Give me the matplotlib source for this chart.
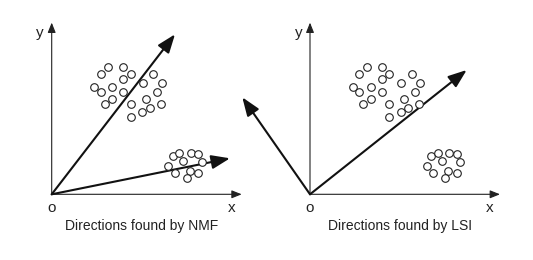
import matplotlib
matplotlib.use('Agg')
from matplotlib import pyplot as plt
import numpy as np

plt.rcParams['font.family'] = ['Liberation Sans', 'DejaVu Sans']

# document points, relative to the origin of each panel (x right, y up)
upper_x = [56.7, 71.7, 49.0, 79.3, 101.7, 71.7, 110.0, 91.0, 42.7, 60.7, 49.3,
           71.7, 105.0, 60.7, 94.0, 53.3, 79.3, 109.3, 98.3, 90.7, 79.3]
upper_y = [127.7, 127.7, 120.3, 120.3, 120.3, 115.0, 111.0, 111.0, 107.7, 107.0, 102.7,
           102.7, 102.7, 95.0, 95.3, 90.0, 90.0, 90.0, 86.7, 82.7, 77.7]
lower_x = [121.0, 127.7, 139.0, 146.7, 131.7, 150.0, 116.7, 123.3, 138.3, 146.7, 135.0]
lower_y = [38.3, 41.0, 41.0, 40.3, 33.7, 32.7, 28.3, 21.0, 23.7, 21.0, 16.0]

# direction vectors found by each method
nmf_dirs = [(123.3, 160.0), (178.3, 36.0)]
lsi_dirs = [(156.7, 124.3), (-67.7, 97.0)]

titles = ['Directions found by NMF', 'Directions found by LSI']
origins = [51.7, 310.0]  # horizontal position of each panel origin (px)
oy = 65.7

fig = plt.figure(figsize=(5.33, 2.6), dpi=100)

for title, dirs, ox in zip(titles, [nmf_dirs, lsi_dirs], origins):
    ax = fig.add_axes([0, 0, 1, 1])
    ax.set_xlim(-ox, 533 - ox)
    ax.set_ylim(-oy, 260 - oy)
    ax.axis('off')
    ax.patch.set_visible(False)

    # coordinate axes
    ax.annotate('', xy=(0, 171.7), xytext=(0, 0),
                arrowprops=dict(arrowstyle='-|>,head_length=0.5,head_width=0.2',
                                lw=0.8, color='#222222', shrinkA=0, shrinkB=0,
                                mutation_scale=12))
    ax.annotate('', xy=(190, 0), xytext=(0, 0),
                arrowprops=dict(arrowstyle='-|>,head_length=0.5,head_width=0.2',
                                lw=0.8, color='#222222', shrinkA=0, shrinkB=0,
                                mutation_scale=12))

    # direction arrows
    for dx, dy in dirs:
        ax.annotate('', xy=(dx, dy), xytext=(0, 0), annotation_clip=False,
                    arrowprops=dict(arrowstyle='-|>,head_length=0.8,head_width=0.3',
                                    lw=1.5, color='#111111', shrinkA=0, shrinkB=0,
                                    mutation_scale=14))

    ax.scatter(upper_x, upper_y, s=30, facecolors='white', edgecolors='#222222',
               linewidths=0.8, zorder=3)
    ax.scatter(lower_x, lower_y, s=30, facecolors='white', edgecolors='#222222',
               linewidths=0.8, zorder=3)

    ax.text(-11.5, 161.5, 'y', fontsize=11, ha='center', va='center', color='#222222')
    ax.text(0, -13.7, 'o', fontsize=11, ha='center', va='center', color='#222222')
    ax.text(180, -13.7, 'x', fontsize=11, ha='center', va='center', color='#222222')
    ax.text(90, -31.7, title, fontsize=10, ha='center', va='center', color='#222222')

plt.savefig('out.png', dpi=100)
